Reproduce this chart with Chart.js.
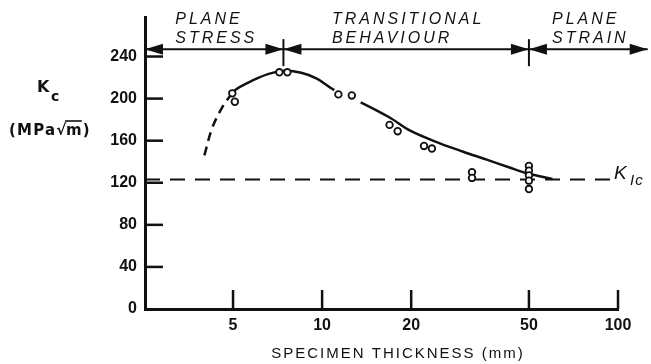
<!DOCTYPE html>
<html>
<head>
<meta charset="utf-8">
<script src="https://cdn.jsdelivr.net/npm/chart.js@4"></script>
<style>
  html, body { margin: 0; padding: 0; background: #fff; }
  canvas { display: block; }
</style>
</head>
<body>
<canvas id="kcChart" width="651" height="364"></canvas>
<script>
// axis ranges and ticks
const X_MIN = 2.52;
const X_MAX = 100;
const Y_MAX = 277;
const X_TICKS = [5, 10, 20, 50, 100];
const Y_TICKS = [0, 40, 80, 120, 160, 200, 240];

// measured toughness values (thickness in mm, Kc in MPa sqrt(m))
const testThickness = [4.97, 5.07, 7.17, 7.63, 11.35, 12.6, 16.9, 18.0, 22.1, 23.5, 32.1, 32.1, 50, 50, 50, 50, 50];
const testKc = [205, 197, 225, 225, 204, 203, 175, 169, 155, 152.5, 130, 124.6, 136, 131.5, 127, 122, 114];

// hand-drawn trend line through the points
const fitThickness = [4.0, 4.25, 4.6, 4.9, 5.1, 5.8, 6.6, 7.5, 8.5, 9.6, 11.0, 13.5, 16.8, 20, 25, 30, 36, 43, 50, 60];
const fitKc = [146, 172, 192, 203, 208.5, 217, 223.5, 226.5, 224.5, 219, 208, 196.5, 182.5, 169, 157.5, 149.5, 142, 134.5, 128.5, 123.6];
const DASHED_UNTIL = 4.9;  // the low end is only guessed, so it's dashed
const FIT_GAP = 11.0;      // curve is broken where it meets the circles

const KIC = 123;

// regions along the top
const REGION_EDGES = [7.4, 50];
const REGION_Y = 247;
const ARROW_END = 126;
const regionNames = [['PLANE', 'STRESS'], ['TRANSITIONAL', 'BEHAVIOUR'], ['PLANE', 'STRAIN']];

const INK = '#111';

function toPoints(xs, ys) {
    return xs.map((x, i) => ({ x: x, y: ys[i] }));
}

function line(ctx, x1, y1, x2, y2) {
    ctx.beginPath();
    ctx.moveTo(x1, y1);
    ctx.lineTo(x2, y2);
    ctx.stroke();
}

function arrowHead(ctx, tipX, y, dir) {
    ctx.beginPath();
    ctx.moveTo(tipX, y);
    ctx.lineTo(tipX - dir * 18, y - 5.5);
    ctx.lineTo(tipX - dir * 18, y + 5.5);
    ctx.closePath();
    ctx.fill();
}

// ticks pointing inwards, the region arrows and all the hand lettering
const annotate = {
    id: 'annotate',
    afterDraw(chart) {
        const { ctx, chartArea: a, scales: { x, y } } = chart;
        ctx.save();
        ctx.strokeStyle = INK;
        ctx.fillStyle = INK;

        ctx.lineWidth = 2.5;
        Y_TICKS.slice(1).forEach(v => {
            const py = y.getPixelForValue(v);
            line(ctx, a.left, py, a.left + 18, py);
        });
        X_TICKS.forEach(v => {
            const px = x.getPixelForValue(v);
            line(ctx, px, a.bottom, px, a.bottom - 19);
        });

        // arrow line split into regions
        const ay = y.getPixelForValue(REGION_Y);
        const ends = [X_MIN, ...REGION_EDGES, ARROW_END].map(v => x.getPixelForValue(v));
        ctx.lineWidth = 2;
        line(ctx, ends[0], ay, ends[ends.length - 1], ay);
        for (let i = 0; i < ends.length - 1; i++) {
            arrowHead(ctx, ends[i], ay, -1);
            arrowHead(ctx, ends[i + 1], ay, 1);
        }
        REGION_EDGES.forEach(v => {
            const px = x.getPixelForValue(v);
            line(ctx, px, ay - 10, px, ay + 17);
        });

        ctx.font = 'italic 16px "Liberation Sans"';
        ctx.letterSpacing = '3px';
        ctx.textAlign = 'left';
        ctx.textBaseline = 'middle';
        regionNames.forEach((lines, i) => {
            const mid = (ends[i] + ends[i + 1]) / 2;
            const w = Math.max(...lines.map(t => ctx.measureText(t).width));
            const left = mid - w / 2 + 2;
            ctx.fillText(lines[0], left, ay - 30);
            ctx.fillText(lines[1], left, ay - 11);
        });

        // K_Ic label at the end of the dashed line
        const ky = y.getPixelForValue(KIC);
        ctx.letterSpacing = '0px';
        ctx.font = 'italic 19px "Liberation Sans"';
        ctx.fillText('K', a.right - 4, ky - 6);
        ctx.font = 'italic 15px "Liberation Sans"';
        ctx.letterSpacing = '1px';
        ctx.fillText('Ic', a.right + 12, ky + 1);

        // y axis title
        ctx.letterSpacing = '0px';
        ctx.font = 'bold 16px "DejaVu Sans"';
        ctx.fillText('K', 37, 88);
        ctx.font = 'bold 14px "DejaVu Sans"';
        ctx.fillText('c', 51, 97);
        ctx.font = 'bold 15px "DejaVu Sans"';
        ctx.letterSpacing = '1.2px';
        const unitsY = 131;
        const head = '(MPa';
        const rad = '\u221A';
        let ux = 9;
        ctx.fillText(head, ux, unitsY);
        ux += ctx.measureText(head).width;
        ctx.fillText(rad, ux, unitsY);
        ux += ctx.measureText(rad).width - 1.5;
        const mW = ctx.measureText('m').width;
        ctx.fillText('m', ux, unitsY);
        ctx.lineWidth = 1.6;
        line(ctx, ux - 1, unitsY - 10, ux + mW - 1, unitsY - 10);
        ctx.fillText(')', ux + mW, unitsY);

        // x axis title
        ctx.font = '15px "Liberation Sans"';
        ctx.letterSpacing = '2px';
        ctx.textAlign = 'center';
        ctx.fillText('SPECIMEN THICKNESS (mm)', (a.left + chart.width) / 2, 354);

        ctx.restore();
    }
};

const tickFont = { family: 'Liberation Sans', weight: 'bold', size: 16 };

new Chart(document.getElementById('kcChart'), {
    type: 'scatter',
    data: {
        datasets: [
            {
                data: toPoints(testThickness, testKc),
                pointStyle: 'circle',
                pointRadius: 3.3,
                pointBorderWidth: 1.8,
                pointBorderColor: INK,
                pointBackgroundColor: '#fff',
                order: 0
            },
            {
                data: toPoints(fitThickness, fitKc),
                showLine: true,
                pointRadius: 0,
                borderColor: INK,
                borderWidth: 2.5,
                tension: 0.35,
                segment: {
                    borderDash: ctx => ctx.p1.parsed.x <= DASHED_UNTIL ? [9, 6] : undefined,
                    borderColor: ctx => ctx.p0.parsed.x === FIT_GAP ? 'rgba(0,0,0,0)' : undefined
                },
                order: 1
            },
            {
                // plane strain toughness
                data: toPoints([X_MIN, X_MAX], [KIC, KIC]),
                showLine: true,
                pointRadius: 0,
                borderColor: INK,
                borderWidth: 2,
                borderDash: [15, 10],
                order: 2
            }
        ]
    },
    options: {
        responsive: false,
        animation: false,
        layout: { padding: { top: 16, right: 33, left: 0, bottom: 0 } },
        plugins: {
            legend: { display: false },
            tooltip: { enabled: false }
        },
        scales: {
            x: {
                type: 'logarithmic',
                min: X_MIN,
                max: X_MAX,
                grid: { display: false, drawTicks: false },
                border: { color: INK, width: 3 },
                ticks: {
                    color: INK,
                    font: tickFont,
                    padding: 7,
                    maxRotation: 0,
                    autoSkip: false,
                    callback: v => String(v)
                },
                afterBuildTicks: s => { s.ticks = X_TICKS.map(v => ({ value: v })); },
                afterFit: s => { s.height = 55; }
            },
            y: {
                min: 0,
                max: Y_MAX,
                grid: { display: false, drawTicks: false },
                border: { color: INK, width: 3 },
                ticks: {
                    color: INK,
                    font: tickFont,
                    padding: 8,
                    autoSkip: false
                },
                afterBuildTicks: s => { s.ticks = Y_TICKS.map(v => ({ value: v })); },
                afterFit: s => { s.width = 145; }
            }
        }
    },
    plugins: [annotate]
});
</script>
</body>
</html>
